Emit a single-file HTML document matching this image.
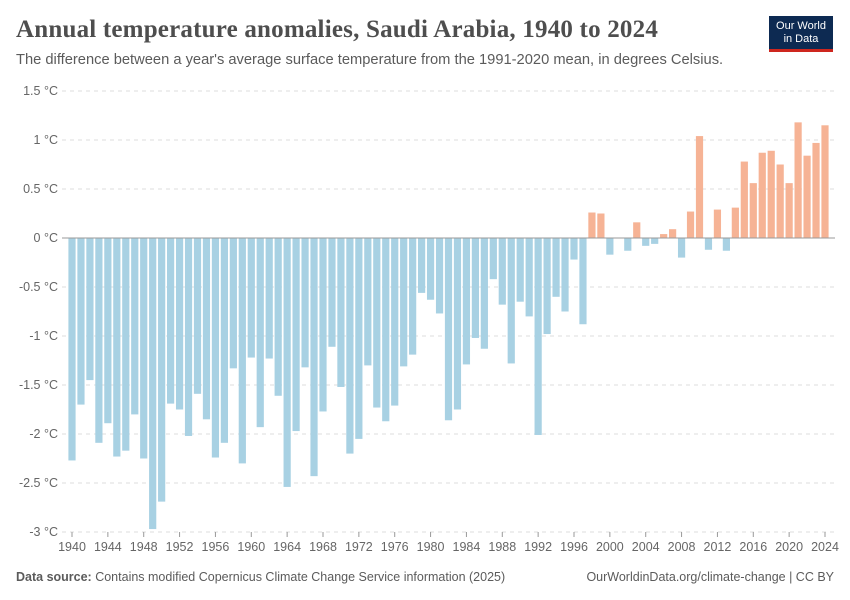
<!DOCTYPE html>
<html><head><meta charset="utf-8">
<style>
body{margin:0;background:#fff;font-family:"Liberation Sans",sans-serif;}
#wrap{position:relative;width:850px;height:600px;overflow:hidden;}
.title{position:absolute;left:16px;top:16px;font-family:"Liberation Serif",serif;font-size:25px;color:#4e4e4e;margin:0;font-weight:bold;letter-spacing:0.2px;}
.sub{position:absolute;left:16px;top:52px;font-size:14.7px;color:#5b5b5b;}
.logo{position:absolute;left:769px;top:16px;width:64px;height:36px;background:#0d2a52;color:#fff;font-size:11px;text-align:center;line-height:13px;padding-top:4px;box-sizing:border-box;border-bottom:3px solid #ce261e;}
.foot{position:absolute;top:570px;font-size:12.5px;color:#5b5b5b;}
</style></head><body>
<div id="wrap">
<h1 class="title">Annual temperature anomalies, Saudi Arabia, 1940 to 2024</h1>
<div class="sub">The difference between a year's average surface temperature from the 1991-2020 mean, in degrees Celsius.</div>
<div class="logo">Our World<br>in Data</div>
<svg id="chart" width="850" height="600" style="position:absolute;left:0;top:0"></svg>
<div class="foot" style="left:16px"><b>Data source:</b> Contains modified Copernicus Climate Change Service information (2025)</div>
<div class="foot" style="right:16px">OurWorldinData.org/climate-change | CC BY</div>
</div>
<script>
const startYear = 1940;
const values = [-2.27,-1.70,-1.45,-2.09,-1.89,-2.23,-2.17,-1.80,-2.25,-2.97,-2.69,-1.69,-1.75,-2.02,-1.59,-1.85,-2.24,-2.09,-1.33,-2.30,
-1.22,-1.93,-1.23,-1.61,-2.54,-1.97,-1.32,-2.43,-1.77,-1.11,-1.52,-2.20,-2.05,-1.30,-1.73,-1.87,-1.71,-1.31,-1.19,-0.56,
-0.63,-0.77,-1.86,-1.75,-1.29,-1.02,-1.13,-0.42,-0.68,-1.28,-0.65,-0.80,-2.01,-0.98,-0.60,-0.75,-0.22,-0.88,0.26,0.25,
-0.17,0,-0.13,0.16,-0.08,-0.06,0.04,0.09,-0.20,0.27,1.04,-0.12,0.29,-0.13,0.31,0.78,0.56,0.87,0.89,0.75,0.56,1.18,0.84,0.97,1.15];
const yTicks = [1.5,1,0.5,0,-0.5,-1,-1.5,-2,-2.5,-3];
const yTickLabels = ["1.5 °C","1 °C","0.5 °C","0 °C","-0.5 °C","-1 °C","-1.5 °C","-2 °C","-2.5 °C","-3 °C"];
const xTickYears = [1940,1944,1948,1952,1956,1960,1964,1968,1972,1976,1980,1984,1988,1992,1996,2000,2004,2008,2012,2016,2020,2024];

const svg = document.getElementById('chart');
const NS = 'http://www.w3.org/2000/svg';
const y = v => 238 - v * 98;
const x = yr => 72 + (yr - 1940) * (825 - 72) / 84;
function mk(tag, attrs){const e=document.createElementNS(NS,tag);for(const k in attrs)e.setAttribute(k,attrs[k]);svg.appendChild(e);return e;}

yTicks.forEach((t,i)=>{
  if(t!==0){
    const g = mk('line',{x1:62,x2:835,y1:y(t),y2:y(t),stroke:'#ddd','stroke-dasharray':'4,4'});
    
    
  }
  const tx = mk('text',{x:58,y:y(t)+4,'text-anchor':'end','font-size':'12.5','fill':'#666','font-family':'Liberation Sans, sans-serif'});
  tx.textContent = yTickLabels[i];
  
  
});

values.forEach((v,i)=>{
  const yr = startYear + i;
  const top = v>=0 ? y(v) : y(0);
  const h = Math.abs(y(v)-y(0));
  const r = mk('rect',{x:x(yr)-3.6,y:top,width:7.2,height:h,fill: v>=0 ? '#f6b395' : '#a8d1e3'});
  
  
});

const zl = mk('line',{x1:62,x2:835,y1:y(0),y2:y(0),stroke:'#999','stroke-width':1});



xTickYears.forEach(yr=>{
  const tk = mk('line',{x1:x(yr),x2:x(yr),y1:532,y2:537,stroke:'#999'});
  
  
  const tx = mk('text',{x:x(yr),y:551,'text-anchor':'middle','font-size':'12.5','fill':'#666','font-family':'Liberation Sans, sans-serif'});
  tx.textContent = yr;
  
  
});
</script>
</body></html>
